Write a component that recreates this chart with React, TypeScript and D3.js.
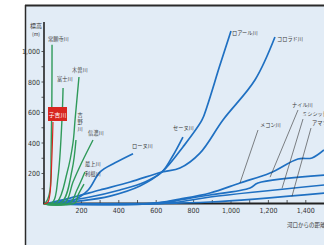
import React from "react";
import * as d3 from "d3";

type Pt = [number, number];

// distance from mouth (km), elevation (m)
const joganji: Pt[] = [[0, 0], [15, 20], [32, 90], [38, 350], [42, 680], [43, 1045]];
const fuji: Pt[] = [[0, 0], [48, 13], [75, 177], [96, 550], [102, 760]];
const koyoshi: Pt[] = [[0, 0], [20, 10], [32, 70], [42, 300], [48, 538]];
const kiso: Pt[] = [[0, 0], [70, 13], [123, 203], [155, 400], [166, 551], [187, 833]];
const yoshino: Pt[] = [[0, 0], [96, 13], [150, 223], [171, 420]];
const shinano: Pt[] = [[0, 0], [112, 7], [155, 144], [203, 275], [262, 420]];
const mogami: Pt[] = [[0, 0], [139, 7], [176, 92], [219, 210]];
const tone: Pt[] = [[0, 0], [166, 7], [182, 59], [214, 131]];

const loire: Pt[] = [[0, 0], [193, 20], [353, 52], [513, 118], [631, 210], [743, 374], [845, 551], [872, 640], [941, 911], [1000, 1134]];
const colorado: Pt[] = [[0, 0], [139, 39], [299, 92], [460, 144], [631, 210], [727, 236], [834, 334], [957, 551], [1128, 813], [1235, 1095]];
const seine: Pt[] = [[0, 0], [246, 46], [406, 92], [540, 144], [631, 210], [685, 308], [743, 439]];
const rhone: Pt[] = [[0, 0], [150, 20], [235, 90], [300, 210], [380, 270], [476, 330]];
const mekong: Pt[] = [[0, 0], [567, 3], [727, 33], [888, 72], [1048, 138], [1209, 203], [1358, 295], [1433, 302], [1497, 354]];
const nile: Pt[] = [[0, 0], [620, 7], [781, 39], [888, 59], [1102, 105], [1144, 138], [1500, 190]];
const mississippi: Pt[] = [[0, 0], [674, 7], [888, 46], [1500, 125]];
const amazon: Pt[] = [[0, 0], [567, 3], [888, 13], [1500, 72]];

const yTicks = [200, 400, 600, 800, 1000];
const yTickLabels = ["200", "400", "600", "800", "1,000"];
const xTicks = [200, 400, 600, 800, 1000, 1200, 1400];
const xTickLabels = ["200", "400", "600", "800", "1,000", "1,200", "1,400"];

const GREEN = "#2f9a5a";
const BLUE = "#1f70c2";
const RED = "#d8261f";
const JP = "'Noto Sans CJK JP', 'Noto Sans', sans-serif";
const NUM = "'Liberation Sans Narrow', 'DejaVu Sans Condensed', sans-serif";

export default function App() {
  const x = d3.scaleLinear().domain([0, 1500]).range([44, 44 + 1500 * 0.187]);
  const y = d3.scaleLinear().domain([0, 1000]).range([204, 51.5]);
  const line = d3
    .line<Pt>()
    .x((d) => x(d[0]))
    .y((d) => y(d[1]))
    .curve(d3.curveCatmullRom.alpha(0.5));

  const greens = [joganji, fuji, kiso, yoshino, shinano, mogami, tone];
  const blues = [loire, colorado, seine, rhone, mekong, nile, mississippi, amazon];

  const minor = d3.range(100, 1001, 100);
  const xMinor = d3.range(100, 1501, 100);

  const lbl = (t: string, px: number, py: number) => (
    <text x={px} y={py} fontSize={5.2} fontFamily={JP} fill="#3a3a3a">
      {t}
    </text>
  );

  const leader = (k1: number, m1: number, px: number, py: number) => (
    <line x1={px} y1={py} x2={x(k1)} y2={y(m1)} stroke="#333" strokeWidth={0.6} />
  );

  return (
    <svg width={324} height={245} style={{ position: "absolute", left: 0, top: 0 }}>
      <rect x={0} y={0} width={324} height={245} fill="#ffffff" />
      <rect x={25} y={5} width={310} height={250} fill="#e2ecf6" />
      <line x1={25} y1={5.5} x2={324} y2={5.5} stroke="#2a2a2a" strokeWidth={2} />
      <line x1={25.5} y1={5} x2={25.5} y2={245} stroke="#2a2a2a" strokeWidth={1.5} />

      {/* axis title */}
      <text x={36} y={28} fontSize={6} fontFamily={JP} fill="#333" textAnchor="middle">標高</text>
      <text x={36} y={36} fontSize={5} fontFamily={JP} fill="#333" textAnchor="middle">(m)</text>

      {/* y axis */}
      <line x1={44} y1={22} x2={44} y2={204} stroke="#222" strokeWidth={1.6} />
      {minor.map((v) => (
        <line key={"ym" + v} x1={41.5} x2={44} y1={y(v)} y2={y(v)} stroke="#333" strokeWidth={0.8} />
      ))}
      {yTicks.map((v, i) => (
        <text key={"yl" + v} x={40} y={y(v) + 2.5} fontSize={7} fontFamily={NUM} fill="#333" textAnchor="end">
          {yTickLabels[i]}
        </text>
      ))}

      {/* x axis */}
      <line x1={43} y1={203.5} x2={324} y2={203.5} stroke="#222" strokeWidth={1.8} />
      {xMinor.map((v) => (
        <line key={"xm" + v} x1={x(v)} x2={x(v)} y1={203} y2={200} stroke="#333" strokeWidth={0.8} />
      ))}
      {xTicks.map((v, i) => (
        <text key={"xl" + v} x={x(v)} y={213} fontSize={7} fontFamily={NUM} fill="#333" textAnchor="middle">
          {xTickLabels[i]}
        </text>
      ))}
      <text x={287} y={227} fontSize={5.5} fontFamily={JP} fill="#333">河口からの距離(km)</text>

      {/* world rivers */}
      {blues.map((d, i) => (
        <path key={"b" + i} d={line(d) || ""} fill="none" stroke={BLUE} strokeWidth={1.7} />
      ))}

      {/* japanese rivers */}
      {greens.map((d, i) => (
        <path key={"g" + i} d={line(d) || ""} fill="none" stroke={GREEN} strokeWidth={1.4} />
      ))}
      <path d={line(koyoshi) || ""} fill="none" stroke={RED} strokeWidth={1.2} />

      {/* japanese labels */}
      {lbl("常願寺川", 48, 41)}
      {lbl("富士川", 57, 81)}
      {lbl("木曽川", 72, 72)}
      <rect x={48} y={107} width={19} height={14} fill={RED} />
      <text x={57.5} y={116.5} fontSize={5.8} fontFamily={JP} fill="#fff" textAnchor="middle">子吉川</text>
      {["吉", "野", "川"].map((c, i) => (
        <text key={"yo" + i} x={80} y={117 + i * 7} fontSize={5.2} fontFamily={JP} fill="#3a3a3a" textAnchor="middle">{c}</text>
      ))}
      {lbl("信濃川", 88, 135)}
      {lbl("最上川", 85, 166)}
      {lbl("利根川", 85, 176)}

      {/* world labels */}
      {lbl("ロアール川", 232, 35)}
      {lbl("コロラド川", 277, 41)}
      {lbl("セーヌ川", 173, 130)}
      {lbl("ローヌ川", 132, 148)}
      {lbl("メコン川", 260, 127)}
      {lbl("ナイル川", 292, 107)}
      {lbl("ミシシッピ川", 302, 116)}
      {lbl("アマゾン川", 312, 125)}
      {leader(1048, 138, 258, 130)}
      {leader(1209, 176, 298, 110)}
      {leader(1273, 103, 303, 119)}
      {leader(1326, 50, 311, 128)}
    </svg>
  );
}
